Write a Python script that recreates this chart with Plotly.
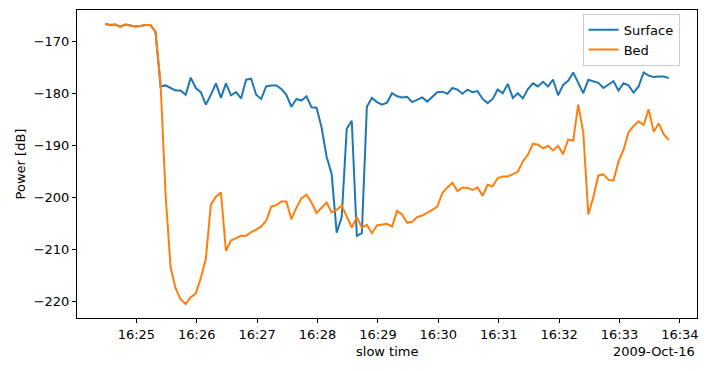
import pandas as pd
import plotly.graph_objects as go

start_time = "2009-10-16 16:24:29"
step_seconds = 5

surface_db = [
    -166.7, -166.9, -166.8, -167.2, -166.8, -167.0, -167.2, -167.1, -166.9, -166.9,
    -168.2, -178.7, -178.5, -179.0, -179.5, -179.5, -180.3, -177.0, -179.0, -179.8,
    -182.2, -180.3, -178.1, -180.9, -178.1, -180.4, -179.8, -181.0, -177.4, -177.2,
    -180.3, -181.1, -178.7, -178.5, -178.5, -179.2, -180.3, -182.6, -181.1, -181.4,
    -180.6, -182.7, -182.8, -186.6, -192.2, -195.5, -206.8, -203.8, -186.8, -185.3,
    -207.4, -206.9, -182.6, -180.9, -181.7, -182.2, -181.8, -180.0, -180.6, -180.8,
    -180.7, -181.7, -181.3, -180.8, -181.6, -180.6, -179.8, -179.7, -180.1, -179.0,
    -179.3, -180.1, -179.3, -179.8, -179.6, -181.1, -181.9, -181.1, -179.3, -180.0,
    -178.2, -180.9, -180.0, -181.0, -179.2, -178.1, -178.7, -177.8, -178.7, -177.4,
    -180.4, -178.4, -177.6, -176.0, -178.1, -180.0, -177.4, -177.7, -178.0, -179.0,
    -178.4, -177.7, -179.5, -178.1, -178.5, -179.9, -178.7, -176.0, -176.6, -176.9,
    -176.8, -176.8, -177.1,
]

bed_db = [
    -166.7, -166.9, -166.8, -167.2, -166.8, -167.0, -167.2, -167.1, -166.9, -166.9,
    -168.2, -178.0, -199.5, -213.5, -217.5, -219.6, -220.5, -219.2, -218.5, -215.5,
    -211.8, -201.4, -199.9, -199.1, -210.3, -208.3, -207.9, -207.4, -207.4, -206.7,
    -206.2, -205.6, -204.5, -201.8, -201.5, -200.8, -200.8, -204.2, -202.0, -200.2,
    -199.5, -201.0, -203.0, -201.9, -201.0, -202.9, -202.4, -201.6, -203.7, -205.8,
    -203.8, -205.8, -205.3, -206.9, -205.4, -205.3, -205.1, -205.6, -202.6, -203.3,
    -204.9, -204.7, -203.8, -203.5, -203.0, -202.4, -201.8, -199.2, -198.1, -197.2,
    -198.8, -198.1, -198.2, -198.6, -198.1, -199.7, -197.6, -197.9, -196.3, -196.0,
    -196.0, -195.6, -195.1, -193.1, -191.8, -189.7, -189.9, -190.6, -190.1, -191.0,
    -190.1, -191.7, -188.9, -189.1, -182.2, -187.5, -203.3, -200.0, -195.8, -195.6,
    -196.6, -196.8, -193.1, -190.9, -187.5, -186.3, -185.4, -186.1, -183.1, -187.4,
    -185.8, -187.9, -189.0,
]

y_ticks = [-170, -180, -190, -200, -210, -220]
x_tick_times = ["16:25", "16:26", "16:27", "16:28", "16:29", "16:30",
                "16:31", "16:32", "16:33", "16:34"]
date_label = "2009-Oct-16"

times = pd.date_range(start=start_time, periods=len(surface_db), freq=f"{step_seconds}s")

fig = go.Figure()
fig.add_trace(go.Scatter(x=times, y=surface_db, mode="lines", name="Surface",
                         line=dict(color="#1f77b4", width=2)))
fig.add_trace(go.Scatter(x=times, y=bed_db, mode="lines", name="Bed",
                         line=dict(color="#ff7f0e", width=2)))

# matplotlib-like 5% margins
t0, t1 = times[0], times[-1]
span = t1 - t0
xr = [t0 - span * 0.05, t1 + span * 0.05]
ymin = min(min(surface_db), min(bed_db))
ymax = max(max(surface_db), max(bed_db))
ys = ymax - ymin
yr = [ymin - 0.05 * ys, ymax + 0.05 * ys]

tickvals = [pd.Timestamp(f"2009-10-16 {t}:00") for t in x_tick_times]

font = dict(family="DejaVu Sans", size=13, color="black")

fig.update_layout(
    width=709, height=371,
    margin=dict(l=77, r=12, t=10, b=53),
    paper_bgcolor="white", plot_bgcolor="white",
    font=font,
    showlegend=True,
    legend=dict(
        x=0.972, y=0.988, xanchor="right", yanchor="top",
        bgcolor="rgba(255,255,255,0.8)", bordercolor="#cccccc", borderwidth=1,
        font=dict(family="DejaVu Sans", size=13, color="black"),
        itemwidth=30, tracegroupgap=0,
    ),
    xaxis=dict(
        type="date", range=xr, tickvals=tickvals, ticktext=x_tick_times,
        showgrid=False, zeroline=False, showline=True, linecolor="black", linewidth=1,
        mirror=True, ticks="outside", ticklen=4, tickcolor="black", tickwidth=1,
        tickfont=font,
    ),
    yaxis=dict(
        range=yr, tickvals=y_ticks, ticktext=[f"\u2212{abs(v)}" for v in y_ticks],
        showgrid=False, zeroline=False, showline=True, linecolor="black", linewidth=1,
        mirror=True, ticks="outside", ticklen=4, tickcolor="black", tickwidth=1,
        tickfont=font,
        title=dict(text="Power [dB]", font=font, standoff=5),
    ),
    annotations=[
        dict(text="slow time", x=0.5, y=-0.11, xref="paper", yref="paper",
             xanchor="center", yanchor="middle", showarrow=False, font=font),
        dict(text=date_label, x=1.0, y=-0.11, xref="paper", yref="paper",
             xanchor="right", yanchor="middle", showarrow=False, font=font),
    ],
)

fig.write_html("out.html",
               config={"displayModeBar": False},
               post_script="document.body.style.margin='0';document.body.style.overflow='hidden';")
